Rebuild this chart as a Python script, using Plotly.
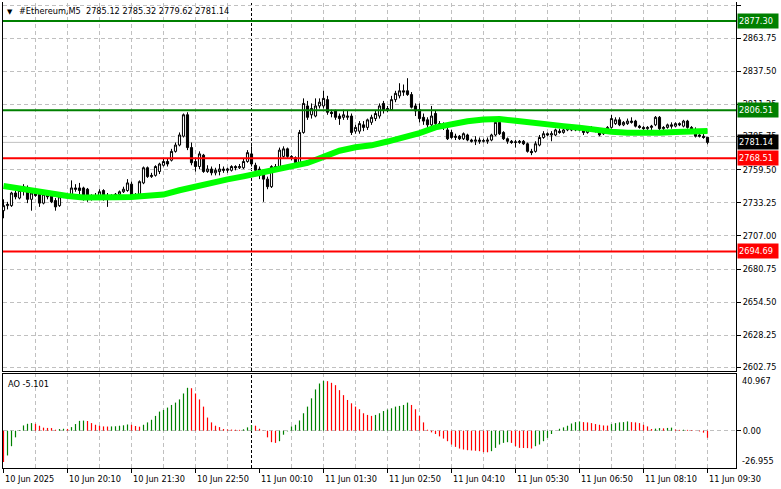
import pandas as pd
import plotly.graph_objects as go

# ---------------- data ----------------
bar_times = pd.date_range("2025-06-10 18:50", periods=177, freq="5min")

open_ = [
    2727, 2731, 2731, 2741, 2737, 2744, 2745, 2736, 2741, 2740,
    2733, 2740, 2739, 2735, 2731, 2738, 2739, 2739, 2745, 2745,
    2745, 2744, 2737, 2738, 2737, 2743, 2738, 2739, 2737, 2740,
    2742, 2743, 2748, 2738, 2740, 2749, 2761, 2754, 2755, 2758,
    2763, 2766, 2767, 2774, 2779, 2786, 2803, 2777, 2766, 2762,
    2771, 2758, 2760, 2757, 2758, 2760, 2759, 2759, 2762, 2761,
    2761, 2766, 2772, 2763, 2760, 2756, 2752, 2746, 2762, 2762,
    2770, 2776, 2770, 2769, 2765, 2789, 2810, 2803, 2802, 2810,
    2810, 2815, 2805, 2806, 2802, 2801, 2801, 2802, 2790, 2790,
    2795, 2793, 2797, 2800, 2802, 2812, 2808, 2807, 2815, 2818,
    2822, 2822, 2819, 2810, 2807, 2801, 2799, 2795, 2804, 2796,
    2795, 2791, 2789, 2785, 2786, 2784, 2787, 2783, 2782, 2783,
    2782, 2782, 2783, 2787, 2797, 2789, 2784, 2782, 2781, 2781,
    2782, 2780, 2774, 2774, 2779, 2785, 2788, 2787, 2787, 2790,
    2789, 2791, 2792, 2791, 2792, 2791, 2789, 2791, 2792, 2790,
    2788, 2789, 2793, 2796, 2799, 2795, 2796, 2798, 2798, 2794,
    2793, 2792, 2793, 2795, 2801, 2792, 2793, 2795, 2794, 2796,
    2794, 2798, 2793, 2791, 2787, 2786, 2785.12,
]
high = [
    2736, 2734, 2742, 2743, 2746, 2748, 2747, 2743, 2744, 2741,
    2741, 2742, 2741, 2737, 2739, 2740, 2740, 2751, 2748, 2749,
    2746, 2745, 2740, 2741, 2744, 2744, 2741, 2740, 2741, 2743,
    2746, 2752, 2750, 2741, 2751, 2762, 2762, 2757, 2763, 2765,
    2768, 2768, 2776, 2781, 2789, 2804, 2805, 2781, 2769, 2774,
    2772, 2763, 2762, 2761, 2764, 2762, 2761, 2763, 2763, 2764,
    2768, 2775, 2778, 2765, 2762, 2758, 2754, 2763, 2764, 2777,
    2778, 2777, 2771, 2770, 2791, 2816, 2814, 2812, 2816, 2816,
    2822, 2818, 2807, 2807, 2804, 2807, 2806, 2804, 2795, 2798,
    2798, 2800, 2803, 2806, 2812, 2814, 2810, 2818, 2822, 2828,
    2827, 2832, 2821, 2812, 2812, 2804, 2801, 2810, 2806, 2798,
    2797, 2793, 2791, 2788, 2787, 2789, 2788, 2784, 2786, 2785,
    2784, 2785, 2788, 2798, 2799, 2790, 2785, 2783, 2783, 2783,
    2783, 2781, 2776, 2782, 2787, 2790, 2789, 2790, 2792, 2792,
    2792, 2795, 2793, 2794, 2794, 2793, 2792, 2794, 2793, 2791,
    2792, 2794, 2803, 2801, 2801, 2798, 2800, 2801, 2799, 2795,
    2794, 2794, 2795, 2802, 2802, 2794, 2796, 2797, 2797, 2797,
    2799, 2799, 2794, 2793, 2789, 2788, 2785.32,
]
low = [
    2721, 2728, 2730, 2736, 2736, 2739, 2733, 2727, 2738, 2730,
    2732, 2736, 2733, 2727, 2730, 2737, 2737, 2738, 2742, 2740,
    2735, 2734, 2735, 2736, 2736, 2735, 2730, 2737, 2736, 2739,
    2741, 2742, 2737, 2737, 2739, 2748, 2753, 2753, 2754, 2756,
    2762, 2762, 2766, 2773, 2778, 2785, 2775, 2763, 2758, 2760,
    2757, 2757, 2755, 2755, 2755, 2757, 2757, 2758, 2759, 2760,
    2760, 2765, 2762, 2757, 2752, 2734, 2744, 2745, 2758, 2760,
    2769, 2768, 2767, 2763, 2764, 2788, 2799, 2800, 2801, 2808,
    2808, 2803, 2801, 2799, 2795, 2799, 2799, 2787, 2788, 2788,
    2790, 2791, 2795, 2798, 2800, 2804, 2805, 2806, 2813, 2816,
    2818, 2818, 2808, 2802, 2797, 2795, 2792, 2793, 2794, 2793,
    2791, 2783, 2784, 2783, 2783, 2783, 2782, 2781, 2779, 2780,
    2781, 2780, 2782, 2786, 2787, 2783, 2780, 2780, 2777, 2780,
    2779, 2773, 2771, 2773, 2778, 2784, 2786, 2782, 2786, 2788,
    2788, 2790, 2790, 2790, 2790, 2787, 2788, 2790, 2789, 2786,
    2787, 2788, 2792, 2795, 2794, 2794, 2795, 2796, 2793, 2792,
    2791, 2791, 2791, 2794, 2791, 2791, 2792, 2792, 2793, 2794,
    2793, 2792, 2791, 2785, 2785, 2784, 2779.62,
]
close = [
    2731, 2732, 2741, 2738, 2743, 2746, 2736, 2741, 2739, 2733,
    2740, 2738, 2734, 2730, 2738, 2739, 2738, 2745, 2744, 2743,
    2737, 2736, 2738, 2737, 2742, 2737, 2739, 2738, 2740, 2742,
    2744, 2749, 2738, 2739, 2750, 2761, 2754, 2755, 2762, 2764,
    2766, 2764, 2774, 2779, 2787, 2803, 2777, 2765, 2762, 2772,
    2758, 2760, 2757, 2759, 2760, 2759, 2760, 2762, 2761, 2762,
    2766, 2773, 2764, 2759, 2755, 2752, 2746, 2762, 2760, 2775,
    2776, 2770, 2769, 2765, 2789, 2812, 2801, 2808, 2810, 2813,
    2816, 2805, 2804, 2801, 2800, 2803, 2802, 2789, 2793, 2796,
    2793, 2799, 2801, 2804, 2810, 2807, 2807, 2815, 2820, 2822,
    2821, 2819, 2809, 2806, 2800, 2798, 2795, 2802, 2796, 2795,
    2793, 2784, 2785, 2786, 2784, 2788, 2783, 2782, 2783, 2782,
    2782.5, 2783, 2787, 2797, 2788, 2784, 2782, 2781, 2781.5, 2782,
    2780, 2774, 2773, 2780, 2785, 2788, 2787, 2788, 2791, 2789,
    2791, 2792, 2791, 2792, 2791, 2789, 2791, 2792, 2790, 2787,
    2791, 2793, 2800, 2799, 2795, 2797, 2798, 2797, 2794, 2793,
    2792, 2793, 2794, 2801, 2792, 2793, 2795, 2794, 2796, 2795,
    2798, 2793, 2792, 2786, 2786, 2785, 2781.14,
]

# moving average read every 4th bar
ma_times = bar_times[0::4]
ma_values = [
    2746.6, 2744.5, 2742.5, 2740.5, 2738.6, 2737.5, 2737.1, 2737.6, 2737.8, 2738.4,
    2739.8, 2743.2, 2746.4, 2749.8, 2751.8, 2754.2, 2756.7, 2758.6, 2761.8, 2764.8,
    2769.6, 2774.5, 2777.2, 2778.8, 2781.8, 2784.9, 2788.5, 2793.0, 2795.6, 2797.8,
    2799.2, 2799.6, 2798.2, 2796.5, 2795.4, 2794.0, 2792.8, 2791.0, 2789.5, 2788.8,
    2788.6, 2788.7, 2789.4, 2789.9, 2790.1,
]

ao_values = [
    -22.6, -17.9, -11.2, -4.8, 0.4, 3.8, 5.0, 5.5, 5.0, 3.6,
    2.2, 2.0, 1.9, 0.7, 1.2, 1.4, 1.3, 2.6, 4.8, 7.1,
    7.3, 7.0, 5.5, 4.3, 3.6, 3.1, 3.0, 3.1, 3.2, 3.6,
    3.9, 4.5, 4.3, 3.4, 2.9, 4.3, 6.0, 7.9, 10.7, 13.8,
    15.0, 16.7, 18.6, 20.3, 22.6, 26.9, 31.0, 30.7, 26.9, 22.6,
    17.4, 9.5, 6.0, 3.6, 2.6, 1.2, 0.9, 0.8, 0.7, 0.6,
    1.0, 2.4, 4.0, 3.6, 1.4, -0.2, -4.8, -8.3, -8.8, -7.6,
    -2.9, -0.5, 3.1, 4.3, 7.4, 12.6, 17.4, 23.4, 29.8, 34.1,
    36.0, 35.8, 34.6, 32.9, 29.3, 25.7, 22.2, 19.8, 17.4, 15.5,
    12.6, 11.4, 10.7, 11.4, 12.6, 14.2, 15.3, 16.2, 17.4, 17.9,
    18.6, 20.3, 18.6, 15.5, 10.7, 6.0, 0.7, -1.2, -2.4, -4.1,
    -5.7, -7.6, -10.0, -11.7, -12.9, -13.6, -14.1, -14.3, -14.5, -14.8,
    -15.5, -15.6, -14.8, -12.4, -10.0, -8.8, -8.3, -8.8, -11.2, -12.4,
    -12.5, -12.6, -12.9, -11.2, -10.0, -7.6, -5.2, -2.4, 0.2, 1.4,
    2.4, 3.6, 5.2, 6.2, 6.7, 6.2, 6.0, 5.5, 4.8, 4.3,
    3.8, 3.7, 4.8, 5.5, 6.0, 6.2, 6.7, 6.2, 6.0, 5.5,
    4.3, 3.1, 1.2, 1.5, 1.9, 1.7, 2.0, 2.2, 0.8, 0.6,
    0.7, 0.6, 0.4, 0.2, -0.5, -1.4, -5.101,
]

symbol_title = "#Ethereum,M5"
ohlc_title = "2785.12 2785.32 2779.62 2781.14"
ao_title = "AO -5.101"

resistance_levels = [2877.30, 2806.51]
support_levels = [2768.51, 2694.69]
last_price = 2781.14

price_ticks = [2890.00, 2863.75, 2837.50, 2811.25, 2785.75, 2759.50,
               2733.25, 2707.00, 2680.75, 2654.50, 2628.25, 2602.75]
ao_max, ao_min = 40.967, -26.955

label_idx = list(range(0, 177, 16))          # bars carrying time labels
grid_idx = [i for i in range(8, 177, 8) if i != 64]
separator_idx = 62                            # 11 Jun 00:00

# ---------------- styling ----------------
FONT = "DejaVu Sans, Verdana, sans-serif"
FS = 8.2
GREEN_LVL = "#008000"
RED_LVL = "#FF0000"
AO_UP = "#008000"
AO_DN = "#FF0000"
GRID = "#C0C0C0"

step = pd.Timedelta(minutes=5)
t0 = bar_times[0]
x_range = [t0 - 0.125 * step, t0 + 183.125 * step]

main_dom = [0.20815, 1.0]
ao_dom = [0.0, 0.20172]

fig = go.Figure()

fig.add_trace(go.Scatter(
    x=ma_times, y=ma_values, mode="lines",
    line=dict(color="#00FF00", width=6), xaxis="x", yaxis="y",
    hoverinfo="skip", showlegend=False))

fig.add_trace(go.Candlestick(
    x=bar_times, open=open_, high=high, low=low, close=close,
    increasing=dict(line=dict(color="black", width=1), fillcolor="white"),
    decreasing=dict(line=dict(color="black", width=1), fillcolor="black"),
    whiskerwidth=0, xaxis="x", yaxis="y", showlegend=False))

# AO histogram: one thin vertical stick per bar, colour by direction
up_x, up_y, dn_x, dn_y = [], [], [], []
for i, (t, v) in enumerate(zip(bar_times, ao_values)):
    rising = i > 0 and v > ao_values[i - 1]
    xs, ys = (up_x, up_y) if rising else (dn_x, dn_y)
    xs.extend([t, t, None])
    ys.extend([0, v, None])
fig.add_trace(go.Scatter(x=up_x, y=up_y, mode="lines", line=dict(color=AO_UP, width=1.2),
                         xaxis="x2", yaxis="y2", hoverinfo="skip", showlegend=False))
fig.add_trace(go.Scatter(x=dn_x, y=dn_y, mode="lines", line=dict(color=AO_DN, width=1.2),
                         xaxis="x2", yaxis="y2", hoverinfo="skip", showlegend=False))

shapes = []
for i in grid_idx:
    for yr in ("y domain", "y2 domain"):
        shapes.append(dict(type="line", xref="x", x0=bar_times[i], x1=bar_times[i],
                           yref=yr, y0=0, y1=1, layer="below",
                           line=dict(color=GRID, width=1, dash="4px,3px")))
for yr in ("y domain", "y2 domain"):
    shapes.append(dict(type="line", xref="x", x0=bar_times[separator_idx],
                       x1=bar_times[separator_idx], yref=yr, y0=0, y1=1,
                       layer="below", line=dict(color="black", width=1, dash="3px,2px")))
shapes.append(dict(type="line", xref="x domain", x0=0, x1=1, yref="y",
                   y0=last_price, y1=last_price, layer="below",
                   line=dict(color=GRID, width=1)))
for lvl in resistance_levels:
    shapes.append(dict(type="line", xref="x domain", x0=0, x1=1, yref="y",
                       y0=lvl, y1=lvl, layer="above",
                       line=dict(color=GREEN_LVL, width=2)))
for lvl in support_levels:
    shapes.append(dict(type="line", xref="x domain", x0=0, x1=1, yref="y",
                       y0=lvl, y1=lvl, layer="above",
                       line=dict(color=RED_LVL, width=2)))

annotations = []
annotations.append(dict(xref="paper", yref="paper", x=0, y=1, xanchor="left",
                        yanchor="top", xshift=2, yshift=-4, showarrow=False,
                        text="▼", font=dict(family="DejaVu Sans", size=7, color="black")))
annotations.append(dict(xref="paper", yref="paper", x=0, y=1, xanchor="left",
                        yanchor="top", xshift=14, yshift=-2, showarrow=False,
                        text=symbol_title + "&nbsp; " + ohlc_title,
                        font=dict(family=FONT, size=FS, color="black")))
annotations.append(dict(xref="paper", yref="y2 domain", x=0, y=1, xanchor="left",
                        yanchor="top", xshift=3, yshift=-3, showarrow=False,
                        text=ao_title, font=dict(family=FONT, size=FS, color="black")))

def price_label(value, bg):
    return dict(xref="paper", yref="y", x=1, y=value, xanchor="left", yanchor="middle",
                xshift=1, showarrow=False, text=f"{value:.2f}", bgcolor=bg,
                width=38, height=12, align="left", borderpad=1,
                font=dict(family=FONT, size=FS, color="white"))

for lvl in resistance_levels:
    annotations.append(price_label(lvl, GREEN_LVL))
for lvl in support_levels:
    annotations.append(price_label(lvl, RED_LVL))
annotations.append(price_label(last_price, "black"))

annotations.append(dict(xref="paper", yref="y2 domain", x=1, y=1, xanchor="left",
                        yanchor="top", xshift=4, yshift=0, showarrow=False,
                        text=f"{ao_max:.3f}", font=dict(family=FONT, size=FS, color="black")))
annotations.append(dict(xref="paper", yref="y2 domain", x=1, y=0, xanchor="left",
                        yanchor="bottom", xshift=4, yshift=0, showarrow=False,
                        text=f"{ao_min:.3f}", font=dict(family=FONT, size=FS, color="black")))

for k, i in enumerate(label_idx):
    t = bar_times[i]
    txt = t.strftime("%d %b %Y") if k == 0 else t.strftime("%d %b %H:%M")
    annotations.append(dict(xref="x2", yref="paper", x=t, y=0, xanchor="left",
                            yanchor="top", xshift=-1, yshift=-4, showarrow=False,
                            text=txt, font=dict(family=FONT, size=FS, color="black")))

fig.update_layout(
    width=781, height=489,
    margin=dict(l=3, r=45, t=2, b=21, pad=0),
    paper_bgcolor="white", plot_bgcolor="white",
    showlegend=False, boxgap=0.25,
    font=dict(family=FONT, size=FS, color="black"),
    xaxis=dict(type="date", domain=[0, 1], anchor="y", range=x_range,
               rangeslider=dict(visible=False), showgrid=False, zeroline=False,
               showticklabels=False, showline=True, linecolor="black",
               linewidth=1, ticks=""),
    xaxis2=dict(type="date", domain=[0, 1], anchor="y2", matches="x", range=x_range,
                showgrid=False, zeroline=False, showticklabels=False,
                tickvals=[bar_times[i] for i in label_idx], ticks="outside",
                ticklen=4, tickcolor="black", showline=True, mirror=True,
                linecolor="black", linewidth=1),
    yaxis=dict(domain=main_dom, anchor="x", side="right",
               range=[2599.94, 2892.38], tickvals=price_ticks,
               ticktext=[f"{v:.2f}" for v in price_ticks],
               ticks="outside", ticklen=4, tickcolor="black",
               showgrid=True, gridcolor=GRID, griddash="4px,3px", gridwidth=1,
               zeroline=False, showline=True, mirror=True, linecolor="black",
               linewidth=1, tickfont=dict(family=FONT, size=FS, color="black")),
    yaxis2=dict(domain=ao_dom, anchor="x2", side="right",
                range=[ao_min, ao_max], tickvals=[0], ticktext=["0.00"],
                ticks="outside", ticklen=4, tickcolor="black",
                showgrid=True, gridcolor=GRID, griddash="4px,3px",
                zeroline=False, showline=True, mirror=True, linecolor="black",
                linewidth=1, tickfont=dict(family=FONT, size=FS, color="black")),
    shapes=shapes, annotations=annotations,
)

fig.write_html("out.html", config={"displayModeBar": False},
               post_script="document.body.style.margin='0';")
